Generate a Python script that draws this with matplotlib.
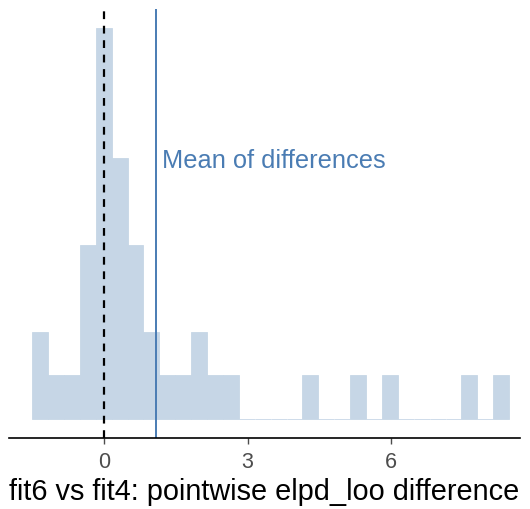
import numpy as np
from matplotlib import pyplot as plt

plt.rcParams['font.family'] = ['Liberation Sans', 'DejaVu Sans']

# histogram of pointwise elpd_loo differences (30 bins)
bin_start = -1.506
bin_width = 0.3326
counts = [2, 1, 1, 4, 9, 6, 4, 2, 1, 1, 2, 1, 1, 0, 0, 0, 0, 1, 0, 0,
          1, 0, 1, 0, 0, 0, 0, 1, 0, 1]
mean_diff = 1.09
xticks = [0, 3, 6]
xlabel = 'fit6 vs fit4: pointwise elpd_loo difference'
annot = 'Mean of differences'

lefts = bin_start + bin_width * np.arange(len(counts))

fig = plt.figure(figsize=(5.30, 5.09), dpi=100)
ax = fig.add_axes([9 / 530, 71 / 509, 511 / 530, 429 / 509])

ax.bar(lefts, counts, width=bin_width, align='edge', color='#c6d6e6',
       edgecolor='#c6d6e6', linewidth=0.6, zorder=1)
ax.axvline(0, color='black', linestyle=(0, (3.5, 3)), linewidth=1.6, zorder=3)
ax.axvline(mean_diff, color='#4a7cb3', linewidth=1.4, zorder=3)
ax.text(mean_diff + 0.12, 5.94, annot, color='#4a7cb3', fontsize=18.3,
        ha='left', va='center')

ax.set_xlim(-1.99, 8.70)
ax.set_ylim(-0.44, 9.43)
ax.set_yticks([])
ax.set_xticks(xticks)
ax.set_xticklabels([str(t) for t in xticks])
ax.tick_params(axis='x', colors='#4d4d4d', labelsize=15.5, length=4, width=1,
               pad=6)
ax.set_xlabel(xlabel, fontsize=20.8, color='black', labelpad=4)
for s in ['top', 'right', 'left']:
    ax.spines[s].set_visible(False)
ax.spines['bottom'].set_linewidth(1.2)
ax.spines['bottom'].set_color('black')
ax.spines['bottom'].set_zorder(4)

fig.savefig('out.png', dpi=100)
